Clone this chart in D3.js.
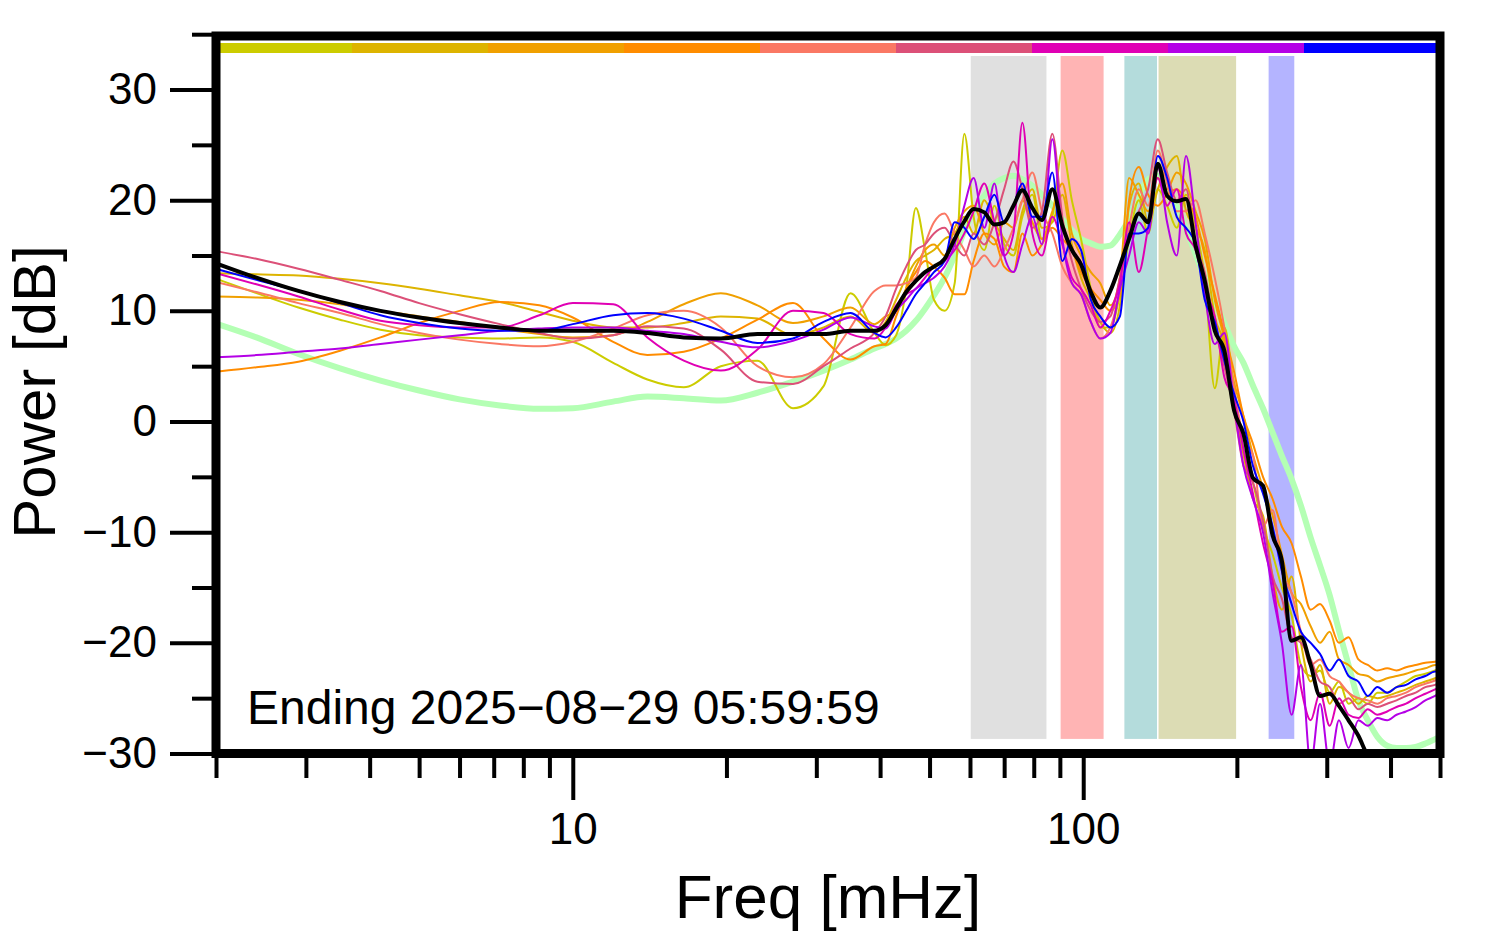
<!DOCTYPE html>
<html><head><meta charset="utf-8">
<script src="https://cdn.jsdelivr.net/npm/d3@7"></script>
<style>body{margin:0;background:#fff;} svg{display:block;font-family:"Liberation Sans",Arial,sans-serif;}</style>
</head><body><svg id="c" width="1494" height="952"></svg>
<script>
// ---------------- data ----------------
const freqs = [2, 2.4, 2.9, 3.5, 4.2, 5, 6, 7.2, 8.6, 10, 12, 14, 16.5, 19.5, 23, 27, 31, 35, 39,
  41, 43, 45, 47, 49, 51, 53.5, 56, 58.5, 61, 64, 67, 70, 73, 76, 79.5, 83, 87, 91, 95,
  99, 103.5, 108, 113, 118, 123, 128.5, 134, 140, 146, 152.5, 159, 166, 173, 181, 189, 197.5, 206, 215, 225,
  235, 245, 256, 267,
  279, 291, 304, 317, 331, 346, 361, 377, 394, 411, 429, 448, 468, 489, 500];

const seriesNames = ["s1", "s2", "s3", "s4", "s5", "s6", "s7", "s8", "s9"];
const seriesColors = ["#cccc00", "#ddb400", "#f0a000", "#ff8c00", "#fa7864", "#dc5078", "#e000b4", "#b400e6", "#0000ff"];

const s1 = [12.9, 11.6, 10.3, 9.2, 8.3, 7.8, 7.6, 7.5, 7.6, 7.2, 5.3, 3.8, 3.1, 5.0, 5.5, 1.2, 3.2, 11.6, 8.0,
  6.9, 7.8, 12.0, 19.3, 15.5, 11.0, 10.0, 12.5, 26.0, 18.5, 15.5, 19.5, 16.0, 15.0, 18.5, 20.5, 16.5, 18.5, 24.5, 20.0,
  16.5, 12.0, 8.5, 8.5, 11.5, 16.5, 20.0, 17.0, 21.0, 19.5, 17.5, 20.5, 17.5, 13.0, 3.0, 8.5, 3.0, -2.5, -5.5, -9.5,
  -12.0, -15.0, -17.5, -22.0,
  -23.0, -22.5, -24.5, -23.5, -25.5, -25.0, -25.5, -24.5, -24.5, -24.0, -23.5, -23.0, -22.8, -22.5, -22.3];
const s2 = [13.4, 13.3, 13.2, 12.9, 12.5, 12.0, 11.4, 10.8, 9.9, 9.1, 8.5, 8.5, 8.9, 9.5, 9.3, 7.8, 8.5, 9.5, 8.0,
  9.0, 11.0, 13.0, 14.5, 15.0, 15.5, 16.5, 17.0, 18.5, 17.0, 20.0, 18.0, 16.5, 15.5, 19.0, 21.0, 17.5, 18.0, 20.5, 16.0,
  13.0, 11.0, 9.0, 8.0, 10.5, 19.5, 21.5, 18.0, 21.0, 23.0, 24.0, 19.0, 17.5, 15.5, 9.5, 7.0, 1.5, -3.0, -7.0, -8.5,
  -14.0, -17.0, -14.0, -20.0,
  -23.5, -22.0, -25.5, -24.0, -24.5, -25.5, -24.8, -25.0, -24.8, -24.5, -24.2, -23.8, -23.5, -23.2, -23.0];
const s3 = [11.3, 11.2, 11.0, 10.6, 10.0, 9.5, 9.0, 8.4, 7.9, 7.6, 7.8, 9.0, 10.6, 11.6, 10.5, 8.9, 9.5, 10.3, 8.8,
  9.5, 10.0, 12.0, 14.0, 15.5, 16.0, 15.0, 17.5, 19.0, 19.5, 17.0, 16.0, 18.0, 17.5, 20.0, 18.0, 16.5, 19.0, 21.5, 17.0,
  15.0, 13.5, 12.5, 10.5, 13.0, 22.0, 20.5, 19.0, 22.0, 21.0, 22.5, 21.5, 19.0, 16.5, 11.0, 7.5, 3.5, 0.5, -3.0, -6.0,
  -8.5, -12.0, -15.5, -16.5,
  -18.5, -20.0, -19.0, -21.5, -22.0, -22.8, -23.0, -23.5, -23.2, -23.0, -22.8, -22.5, -22.3, -22.0, -22.0];
const s4 = [4.5, 4.9, 5.4, 6.4, 7.6, 8.9, 10.0, 10.8, 10.5, 9.4, 7.2, 6.0, 6.3, 7.5, 9.2, 10.7, 7.5, 5.6, 6.8,
  7.0, 9.5, 12.0, 13.5, 14.5, 14.0, 13.0, 11.5, 11.5, 14.5, 17.0, 16.5, 14.0, 13.5, 17.0, 15.0, 16.0, 17.5, 16.5, 15.5,
  13.5, 12.0, 11.0, 10.0, 11.5, 20.0, 23.0, 20.5, 19.5, 20.5, 21.0, 20.0, 18.5, 15.0, 11.5, 8.0, 4.5, 0.5, -2.0, -5.0,
  -7.0, -9.5, -11.0, -14.0,
  -17.0, -16.5, -18.0, -20.0, -19.5, -21.5, -22.0, -22.5, -22.3, -22.5, -22.2, -22.0, -21.8, -21.7, -21.6];
const s5 = [12.6, 11.7, 10.7, 9.8, 8.8, 8.0, 7.4, 7.0, 6.8, 7.2, 8.4, 9.6, 10.0, 8.5, 5.0, 4.0, 5.2, 8.5, 11.8,
  12.3, 12.3, 12.5, 13.0, 16.0, 18.0, 18.8, 17.0, 15.5, 14.0, 15.0, 14.0, 15.5, 17.5, 20.0, 22.5, 19.0, 17.0, 14.0, 12.5,
  11.5, 9.0, 7.5, 8.5, 12.0, 17.5, 21.0, 19.5, 24.5, 21.5, 19.0, 19.0, 20.0, 17.0, 13.0, 8.5, 3.0, -1.5, -3.0, -9.5,
  -8.0, -13.5, -15.5, -19.0,
  -22.0, -21.5, -23.0, -23.5, -24.5, -25.0, -25.2, -25.5, -25.0, -24.8, -24.5, -24.0, -23.7, -23.4, -23.2];
const s6 = [15.4, 14.7, 13.8, 12.8, 11.8, 10.7, 9.7, 8.8, 8.0, 7.5, 7.8, 8.6, 8.4, 6.5, 3.6, 3.4, 5.0, 6.6, 8.0,
  9.5, 12.0, 14.0, 15.5, 16.0, 17.0, 17.5, 16.0, 15.0, 17.0, 16.0, 18.0, 21.0, 23.5, 21.0, 17.5, 19.0, 26.0, 18.5, 14.5,
  12.0, 10.0, 9.0, 9.5, 13.0, 17.0, 19.0, 21.0, 25.5, 22.5, 20.0, 21.0, 16.0, 13.5, 8.5, 5.0, 1.0, -4.0, -5.5, -9.0,
  -14.0, -16.0, -19.5, -20.0,
  -21.5, -23.5, -24.0, -25.5, -25.0, -26.0, -25.5, -25.8, -25.5, -25.2, -24.8, -24.5, -24.0, -23.8, -23.6];
const s7 = [13.4, 12.4, 11.3, 10.1, 9.1, 8.7, 8.5, 8.5, 9.6, 10.7, 10.6, 7.6, 5.5, 4.6, 6.5, 10.0, 9.8, 7.9, 7.5,
  8.5, 10.5, 11.5, 12.0, 13.0, 14.0, 14.5, 15.5, 17.0, 19.0, 21.5, 18.0, 15.0, 17.0, 27.0, 17.0, 15.0, 18.5, 16.0, 13.0,
  12.0, 10.5, 8.5, 10.0, 12.5, 18.0, 13.5, 17.5, 22.0, 19.5, 21.0, 17.0, 15.5, 12.0, 9.5, 4.0, 2.0, -2.5, -6.5, -11.0,
  -14.5, -19.0, -18.5, -24.0,
  -27.0, -24.5, -27.5, -25.0, -26.5, -26.8, -26.0, -26.5, -26.2, -25.8, -25.5, -25.0, -24.6, -24.2, -24.0];
const s8 = [5.8, 6.0, 6.3, 6.6, 7.0, 7.4, 7.8, 8.2, 8.4, 8.5, 8.5, 8.2, 7.9, 7.2, 6.7, 7.3, 8.3, 9.4, 8.6,
  8.4, 10.0, 11.0, 12.0, 12.5, 13.0, 14.0, 16.0, 19.5, 22.0, 17.5, 21.5, 15.0, 13.5, 16.0, 18.5, 16.0, 25.5, 16.5, 12.5,
  11.5, 9.0, 7.5, 8.0, 12.0, 15.0, 18.0, 17.0, 23.0, 18.0, 15.0, 24.0, 18.0, 11.5, 7.0, 8.0, 1.5, -4.0, -7.0, -10.0,
  -15.5, -20.0, -26.5, -22.0,
  -31.0, -25.5, -31.0, -27.0, -29.5, -27.0, -27.5, -26.8, -27.0, -26.5, -26.2, -25.8, -25.2, -24.8, -24.5];
const s9 = [13.8, 12.8, 11.8, 10.7, 9.6, 8.9, 8.4, 8.2, 8.2, 8.8, 9.6, 9.8, 9.3, 8.2, 7.1, 7.5, 9.0, 9.8, 8.0,
  7.6, 8.5, 10.0, 11.5, 12.5, 13.5, 14.5, 18.0, 17.5, 16.5, 18.5, 20.5, 18.0, 19.5, 21.5, 18.5, 18.5, 22.5, 14.5, 16.5,
  15.5, 11.0, 9.5, 8.5, 9.5, 17.0, 17.0, 17.5, 24.0, 22.0, 18.5, 17.5, 16.0, 11.0, 9.0, 5.5, 2.5, 0.0, -4.0, -6.5,
  -9.5, -13.5, -16.5, -19.0,
  -20.0, -21.0, -22.5, -21.5, -23.0, -23.5, -24.8, -24.0, -24.5, -24.0, -23.8, -23.3, -23.0, -22.6, -22.6];

const meanValues = [14.3, 13.0, 11.8, 10.8, 10.0, 9.4, 8.9, 8.5, 8.2, 8.2, 8.2, 8.0, 7.6, 7.5, 7.9, 7.9, 7.9, 8.2, 8.2,
  8.7, 10.2, 11.7, 12.7, 13.5, 14.0, 14.7, 16.5, 18.1, 19.2, 18.9, 17.8, 18.0, 19.5, 20.9, 19.3, 18.2, 21.0, 17.7, 15.5,
  14.2, 11.7, 10.3, 11.8, 14.1, 16.5, 18.8, 18.0, 23.3, 20.4, 19.9, 20.1, 15.9, 12.7, 8.2, 6.4, 1.0, -1.1, -5.1, -5.8,
  -10.3, -12.6, -19.8, -19.5,
  -22.0, -24.8, -24.6, -25.7, -27.0, -28.4, -30.2, -31.0, -31.5, -32.0, -32.0, -32.0, -32.0, -32.0, -32.0];

const modelValues = [8.85, 7.6, 6.1, 4.8, 3.7, 2.8, 2.0, 1.45, 1.15, 1.2, 1.8, 2.25, 2.1, 1.9, 2.6, 3.6, 4.6, 5.6, 6.6,
  7.0, 7.5, 8.2, 9.1, 10.2, 11.4, 13.0, 15.0, 17.2, 19.0, 20.4, 21.5, 22.0, 22.2, 21.9, 21.3, 20.5, 19.5, 18.3, 17.3,
  16.5, 16.1, 15.8, 15.9, 16.9, 18.3, 20.4, 21.9, 22.2, 21.0, 19.5, 17.4, 15.1, 13.0, 10.9, 8.9, 6.8, 5.3, 3.25, 1.2,
  -1.0, -3.1, -5.2, -7.6,
  -10.5, -13.0, -15.7, -18.9, -22.0, -25.2, -27.0, -28.5, -29.3, -29.5, -29.5, -29.4, -29.1, -28.7, -28.5];

const bands = [[60, 85], [90, 110], [120, 140], [140, 200], [230, 260]];
const bandColors = ["#e0e0e0", "#ffb4b4", "#b4dcdc", "#dcdcb4", "#b4b4ff"];

const xMajorTicks = [10, 100];
const xMinorTicks = [2, 3, 4, 5, 6, 7, 8, 9, 20, 30, 40, 50, 60, 70, 80, 90, 200, 300, 400, 500];
const yMajorTicks = [-30, -20, -10, 0, 10, 20, 30];
const yMinorTicks = [-25, -15, -5, 5, 15, 25, 35];

const stampText = "Ending 2025\u221208\u221229 05:59:59";
const xTitle = "Freq [mHz]";
const yTitle = "Power [dB]";

// ---------------- drawing ----------------
const thinSeries = [s1, s2, s3, s4, s5, s6, s7, s8, s9];
const svg = d3.select("#c");
const x = d3.scaleLog().domain([2, 500]).range([216, 1440]);
const y = d3.scaleLinear().domain([-30, 35]).range([753.5, 34.2]);

svg.append("defs").append("clipPath").attr("id", "clip")
  .append("rect").attr("x", 216).attr("y", 31).attr("width", 1224).attr("height", 723);

// bands
svg.append("g").selectAll("rect").data(bands).join("rect")
  .attr("x", d => x(d[0])).attr("width", d => x(d[1]) - x(d[0]))
  .attr("y", y(33.1)).attr("height", y(-28.75) - y(33.1))
  .attr("fill", (d, i) => bandColors[i])
  .attr("stroke", "#fff").attr("stroke-width", 1.5);

// top colour strip (one segment per series)
const strip = d3.scaleBand().domain(seriesNames).range([216, 1440]);
svg.append("g").selectAll("rect").data(seriesNames).join("rect")
  .attr("x", d => strip(d)).attr("width", strip.bandwidth() + 0.5)
  .attr("y", 43).attr("height", 10)
  .attr("fill", (d, i) => seriesColors[i]);

const line = d3.line().x((d, i) => x(freqs[i])).y(d => y(d)).curve(d3.curveMonotoneX);
const lines = svg.append("g").attr("clip-path", "url(#clip)").attr("fill", "none")
  .attr("stroke-linejoin", "round").attr("stroke-linecap", "round");

lines.append("path").attr("d", line(modelValues)).attr("stroke", "#b4ffb4").attr("stroke-width", 6);
thinSeries.forEach((s, i) => {
  lines.append("path").attr("d", line(s)).attr("stroke", seriesColors[i]).attr("stroke-width", 2);
});
lines.append("path").attr("d", line(meanValues)).attr("stroke", "#000").attr("stroke-width", 4);

// axes
const fmt = v => String(v).replace("-", "\u2212");
const styleAxis = g => {
  g.select(".domain").remove();
  g.selectAll(".tick line").attr("stroke", "#000").attr("stroke-width", 4);
  g.selectAll(".tick text").attr("fill", "#000").attr("font-size", 44)
    .attr("font-family", "'Liberation Sans', Arial, sans-serif");
};
svg.append("g").attr("transform", "translate(0,753)")
  .call(d3.axisBottom(x).tickValues(xMinorTicks).tickSize(25).tickFormat(""))
  .call(styleAxis);
svg.append("g").attr("transform", "translate(0,753)")
  .call(d3.axisBottom(x).tickValues(xMajorTicks).tickSize(47).tickPadding(13).tickFormat(fmt))
  .call(styleAxis);
svg.append("g").attr("transform", "translate(216,0)")
  .call(d3.axisLeft(y).tickValues(yMinorTicks).tickSize(24).tickFormat(""))
  .call(styleAxis);
svg.append("g").attr("transform", "translate(216,0)")
  .call(d3.axisLeft(y).tickValues(yMajorTicks).tickSize(46).tickPadding(13).tickFormat(fmt))
  .call(styleAxis);

// frame
svg.append("rect").attr("x", 216).attr("y", 36).attr("width", 1224).attr("height", 717.5)
  .attr("fill", "none").attr("stroke", "#000").attr("stroke-width", 9);

// texts
svg.append("text").attr("x", 247).attr("y", 724).attr("font-size", 48).attr("fill", "#000").text(stampText);
svg.append("text").attr("x", 828).attr("y", 918).attr("text-anchor", "middle").attr("font-size", 62).attr("fill", "#000").text(xTitle);
svg.append("text").attr("transform", "translate(55,392) rotate(-90)").attr("text-anchor", "middle")
  .attr("font-size", 60).attr("fill", "#000").text(yTitle);
</script>
</body></html>
